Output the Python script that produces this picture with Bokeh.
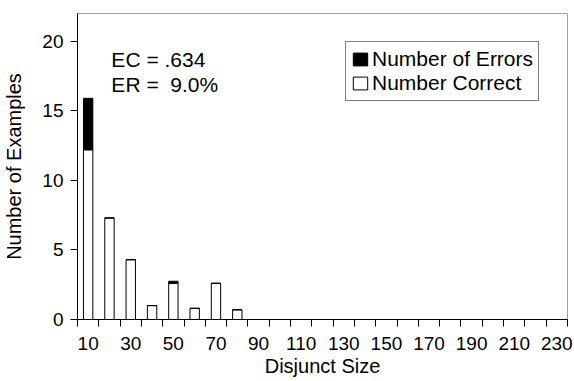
from bokeh.plotting import figure
from bokeh.models import (Range1d, FixedTicker, Legend, LegendItem, Label,
                          ColumnDataSource)
from bokeh.embed import file_html
from bokeh.resources import INLINE
import numpy as np

# Disjunct size bins (bin centres) and the average counts per bin
disjunct_size = [10, 20, 30, 40, 50, 60, 70, 80, 90, 100, 110, 120, 130,
                 140, 150, 160, 170, 180, 190, 200, 210, 220, 230]
num_correct = [12.2, 7.3, 4.3, 1.0, 2.6, 0.8, 2.6, 0.7, 0, 0, 0, 0, 0,
               0, 0, 0, 0, 0, 0, 0, 0, 0, 0]
num_errors = [3.7, 0, 0, 0, 0.15, 0, 0, 0, 0, 0, 0, 0, 0,
              0, 0, 0, 0, 0, 0, 0, 0, 0, 0]
x_tick_labels = [10, 30, 50, 70, 90, 110, 130, 150, 170, 190, 210, 230]
y_ticks = [0, 5, 10, 15, 20]
stats_lines = ["EC = .634", "ER =\u00a0 9.0%"]

FONT = "Liberation Sans"
BIN = 10

correct = np.array(num_correct, dtype=float)
errors = np.array(num_errors, dtype=float)
src = ColumnDataSource(dict(x=disjunct_size, correct=correct,
                            total=correct + errors))

p = figure(width=574, height=381, output_backend="svg", toolbar_location=None,
           x_range=Range1d(disjunct_size[0] - BIN / 2, disjunct_size[-1] + BIN / 2),
           y_range=Range1d(0, 22),
           min_border_left=75, min_border_right=7, min_border_top=13,
           min_border_bottom=62)
p.xgrid.visible = False
p.ygrid.visible = False
p.outline_line_color = "#a0a0a0"
p.background_fill_color = "white"
p.border_fill_color = "white"

bar_w = 4.4
r_correct = p.vbar(x="x", bottom=0, top="correct", width=bar_w, source=src,
                   fill_color="white", line_color="black", line_width=1)
r_errors = p.vbar(x="x", bottom="correct", top="total", width=bar_w, source=src,
                  fill_color="black", line_color="black", line_width=1)

# x axis: labels at bin centres, tick marks at bin boundaries
boundaries = [s - BIN / 2 for s in disjunct_size] + [disjunct_size[-1] + BIN / 2]
xa = p.xaxis[0]
xa.ticker = FixedTicker(ticks=x_tick_labels, minor_ticks=boundaries)
xa.major_tick_line_color = None
xa.major_tick_out = 7
xa.major_tick_in = 0
xa.minor_tick_out = 7
xa.minor_tick_in = 0
xa.minor_tick_line_color = "black"
xa.axis_line_color = "black"
xa.major_label_standoff = 10
xa.axis_label = "Disjunct Size"
xa.axis_label_standoff = 2

ya = p.yaxis[0]
ya.ticker = FixedTicker(ticks=y_ticks)
ya.minor_tick_line_color = None
ya.major_tick_out = 7
ya.major_tick_in = 0
ya.major_tick_line_color = "black"
ya.axis_line_color = "black"
ya.major_label_standoff = 7
ya.axis_label = "Number of Examples"
ya.axis_label_standoff = 14

for ax in (xa, ya):
    ax.major_label_text_font = FONT
    ax.major_label_text_font_size = "19px"
    ax.major_label_text_color = "black"
    ax.axis_label_text_font = FONT
    ax.axis_label_text_font_size = "20px"
    ax.axis_label_text_font_style = "normal"
    ax.axis_label_text_color = "black"

# EC / ER annotation
for i, txt in enumerate(stats_lines):
    p.add_layout(Label(x=20.9, y=18.7 - i * 1.8, text=txt,
                       text_font=FONT, text_font_size="21px",
                       text_color="black", text_baseline="alphabetic"))

legend = Legend(items=[LegendItem(label="Number of Errors", renderers=[r_errors]),
                       LegendItem(label="Number Correct", renderers=[r_correct])],
                location=(268, 218), orientation="vertical",
                label_text_font=FONT, label_text_font_size="21px",
                label_text_color="black", label_standoff=3,
                glyph_width=18, glyph_height=16, label_height=24,
                spacing=0, padding=5, margin=0,
                border_line_color="black", border_line_width=1,
                background_fill_color="white", background_fill_alpha=1)
p.add_layout(legend)

open("out.html", "w").write(file_html(p, INLINE))
